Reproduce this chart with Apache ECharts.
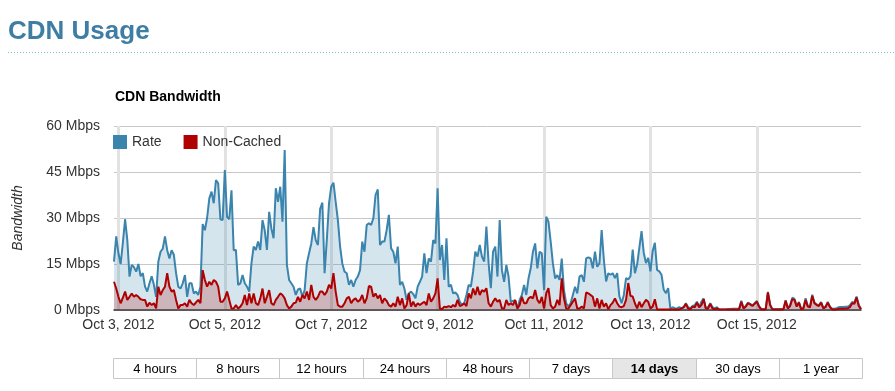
<!DOCTYPE html>
<html><head><meta charset="utf-8">
<script src="https://cdn.jsdelivr.net/npm/echarts@6/dist/echarts.min.js"></script>
<style>html,body{margin:0;padding:0;background:#fff}#c{width:895px;height:391px}</style>
</head><body><div id="c"></div>
<script>
// hourly samples starting Oct 2 2012, 22:00
const startTime = Date.UTC(2012, 9, 2, 22);
const stepMs = 3600000;

const rate = [
15.8,24,18.5,15,22,29.6,22.8,10.9,14.7,14,12.5,15,11,12,7.6,6,8.7,11,8.2,4.3,15.8,19,20,24,19.5,16.8,19.5,18,12,7.6,7,8.7,11.4,4.3,8.7,8.7,5.4,6,4.9,7.6,28,26,30,36.4,38.6,34.8,42.4,41.3,29.6,29.3,45.6,30.4,29.6,39,19.5,
19.6,8.2,8.7,11.4,8.7,7.6,6,15.2,20.7,19.6,22.3,19.6,29.3,26,19.6,32,26.6,23.4,39.7,35.3,40.2,28.8,52.2,14.7,9.8,8.7,7.6,4.9,6.7,7,4.3,6.5,15.2,18.5,21.7,27,22.8,21.2,33,35,12,22.8,34.8,40.2,41.5,35.3,29.3,20.7,15.2,12.5,12,8.2,9.8,7.6,9.8,
10.9,13,22.3,19,27.7,28.3,27.7,29.9,37.5,39.3,21.2,22.3,22.3,26,31,20.1,19,15.2,20.7,8.2,9.2,7,3.3,5.4,6,5.2,3.8,7.6,9.2,10.9,18.5,12,16.8,15.8,22.8,21.7,39.7,16.3,21.2,9.8,23.4,7.6,8.2,5.4,5.7,4.9,2.7,1.6,2.2,4.9,8.2,7.6,12.5,19,17.4,21.2,
17.4,15.8,27.2,15.2,7.1,19,20.7,10.9,29.3,13,9.2,14.7,10.9,2.7,3,3,0.5,3.3,4.9,8.2,4.9,10.3,13.6,19,21.7,13.6,19,18.5,6.5,30.4,28.8,22.3,15.2,10.3,11.4,9.8,16.8,6.5,2.2,1.1,2.2,4.9,7.6,5.4,10.9,11.4,9.2,16.8,17.2,16.8,13.6,19,14.1,15.2,26.1,16.3,
9.3,12,11.5,12,10.4,12,4.4,2.2,4.9,10.4,10,11,19.7,12,14.8,20.3,25.7,18.6,15.3,17,12.6,19.2,21.9,13.1,12.6,11.5,6.6,5.5,7.1,0.4,0.9,0.5,0.5,0.9,0.5,0.9,2.2,0.9,0.5,1.3,1.6,2.7,0.9,2.7,3.8,0.5,0.9,2.2,0.9,0.5,0.9,0.2,0.2,0.2,0.2,0.3,0.3,
0.4,0.4,0.4,0.4,3,0.6,1.3,2.4,2,1.5,2.2,3,1.3,0.3,0.3,0.3,5.9,1.8,0.3,0.3,0.3,0.3,0.3,0.3,3.2,0.7,1.5,4,3.6,1.4,2.6,0.4,0.7,3.8,1.3,1.1,5,2.4,1.8,1.5,2.6,0.7,1.1,2.6,1.1,0.4,0.4,0.6,0.9,1,1,1.1,1.1,1.5,2.6,2.4,4.4,1.6,0.4
];

const nonCached = [
9.2,7,4.3,2.2,4,6,3.3,4.3,5.4,4.3,4.9,4.3,3.5,3.3,3.3,1.1,2.4,1.6,2.2,0.5,7.6,4.9,6.5,7.6,12,7.6,6,6.5,3.3,0.5,1.6,1.6,2.2,1.1,3.3,2.2,1.6,2.5,3.3,2.2,13,9.8,7.6,9.2,8.2,9.8,9.2,7.6,2.7,2.7,3.8,6,3.3,0.5,0.5,
1.6,0.5,1.1,2.2,4.9,1.6,5.4,2.2,5.4,2.2,1.6,3.8,7,2.2,4.3,6.5,2.2,1.6,3.3,4.3,5.4,4.9,3.8,1.6,0.5,1.1,2.2,2.4,4.3,2.7,4.9,3.8,6,3.3,8.2,4.3,3.3,4.3,6,6,4.9,6,8.2,7,12,6,1.6,1.1,1.1,2.2,3.8,4.3,2.2,3.3,3.8,
2.7,3.3,4.9,2.2,3.8,7.8,7.6,4.3,5.4,3.8,4.9,2.2,3.8,3,1.6,1.1,2.2,1.1,4.3,1.6,3.8,0.5,1.6,5.4,1.1,2.7,1.1,2.2,1.6,2.2,2.7,1.6,5.4,2.7,3.8,5.4,10.3,0.5,0.3,1.1,0.9,1.3,0.9,1.6,1.1,3.3,1.3,1.6,2.2,1.3,5.4,3.8,7,4.9,7.6,4.9,
6.5,6,7.1,2.2,1.1,2.7,3.8,2.7,3.3,0.5,0.5,3.3,1.6,2.2,1.6,3.3,0.5,1.6,4.3,2.2,2.2,3.8,4.3,3.8,6.5,3.3,2.2,4.3,0.5,5.4,7.1,1.6,0.5,1.1,3.3,1.6,10.3,3.8,0.5,0.5,1.6,2.7,3.8,0.5,0.5,1.1,0.5,5.7,5.4,4.9,4.3,1.1,3.8,0.5,3.3,1.1,
2.2,0.2,1.6,2.4,3.8,2.2,1.1,0.9,1.3,3.3,8.8,4.6,4.4,2.2,0.5,2.7,0.9,2.2,3.3,2.7,0.5,1.1,3.5,0.2,0.2,0.2,0.2,0.2,0.2,0.2,0.2,0.2,0.2,0.2,0.5,0.9,2,0.5,0.2,1.1,0.9,2.4,0.9,1.6,3.5,0.5,0.5,2,0.5,0.2,0.5,0.2,0.2,0.2,0.2,0.2,0.2,
0.2,0.2,0.2,0.2,2.7,0.5,1.1,2.2,1.8,1.3,2,2.7,1.1,0.2,0.2,0.2,5.7,1.6,0.2,0.2,0.2,0.2,0.2,0.2,3,0.5,1.3,3.5,3.3,1.1,2.4,0.2,0.5,3.3,1.1,0.9,4.6,2.2,1.6,1.3,2.4,0.5,0.9,2.4,0.9,0.2,0.2,0.2,0.4,0.4,0.4,0.5,0.5,0.9,2.2,2,4.1,1.3,0.2
];

const yTickValues = [0, 15, 30, 45, 60];
const seriesNames = ['Rate', 'Non-Cached'];
const rangeButtons = ['4 hours','8 hours','12 hours','24 hours','48 hours','7 days','14 days','30 days','1 year'];
const activeButton = '14 days';
const monthNames = ['Jan','Feb','Mar','Apr','May','Jun','Jul','Aug','Sep','Oct','Nov','Dec'];

const times = rate.map((_, i) => startTime + i * stepMs);
function isMajor(ts) {
  const d = new Date(ts);
  return d.getUTCHours() === 0 && d.getUTCDate() % 2 === 1;
}
function fmt(ts) {
  const d = new Date(ts);
  return monthNames[d.getUTCMonth()] + ' ' + d.getUTCDate() + ', ' + d.getUTCFullYear();
}

const FONT = "'Liberation Sans', Arial, sans-serif";
const chart = echarts.init(document.getElementById('c'));

// buttons
const btnLeft = 113, btnRight = 862, btnTop = 358, btnH = 20;
const btnW = (btnRight - btnLeft) / rangeButtons.length;
const buttonEls = [];
rangeButtons.forEach((b, i) => {
  const x = Math.round(btnLeft + i * btnW) + 0.5;
  const x2 = Math.round(btnLeft + (i + 1) * btnW) + 0.5;
  buttonEls.push({
    type: 'rect', shape: { x: x, y: btnTop + 0.5, width: x2 - x, height: btnH },
    style: { fill: b === activeButton ? '#e6e6e6' : '#fff', stroke: '#c8c8c8', lineWidth: 1 }, silent: true
  });
  buttonEls.push({
    type: 'text', x: (x + x2) / 2, y: btnTop + btnH / 2 + 1,
    style: { text: b, fontSize: 13, fontFamily: FONT, fontWeight: b === activeButton ? 'bold' : 'normal',
      fill: '#000', align: 'center', verticalAlign: 'middle' }, silent: true
  });
});

chart.setOption({
  animation: false,
  textStyle: { fontFamily: FONT },
  grid: { left: 114, right: 34, top: 126, bottom: 81, containLabel: false, outerBoundsMode: 'none' },
  graphic: [
    { type: 'text', x: 8, y: 32, style: { text: 'CDN Usage', fontSize: 26, fontWeight: 'bold', fontFamily: FONT,
      fill: '#3f7ea4', verticalAlign: 'middle' } },
    { type: 'line', shape: { x1: 8, y1: 52.5, x2: 895, y2: 52.5 },
      style: { stroke: '#7fc0d8', lineWidth: 1, lineDash: [1, 2] } },
    { type: 'text', x: 115, y: 97, style: { text: 'CDN Bandwidth', fontSize: 14, fontWeight: 'bold', fontFamily: FONT,
      fill: '#000', verticalAlign: 'middle' } }
  ].concat(buttonEls),
  legend: {
    data: seriesNames, left: 108, top: 130, icon: 'rect', itemWidth: 14, itemHeight: 14, itemGap: 22,
    textStyle: { fontSize: 14, color: '#333', fontFamily: FONT }
  },
  xAxis: {
    type: 'category', boundaryGap: false, data: times,
    axisLine: { lineStyle: { color: '#333', width: 1.5 } },
    axisTick: { show: false },
    axisLabel: { interval: (i, v) => isMajor(+v), formatter: v => fmt(+v), fontSize: 14, color: '#333', margin: 8, fontFamily: FONT },
    splitLine: { show: true, interval: (i, v) => isMajor(+v), lineStyle: { color: '#e2e2e2', width: 3 } }
  },
  yAxis: {
    type: 'value', min: yTickValues[0], max: yTickValues[yTickValues.length - 1], interval: yTickValues[1] - yTickValues[0],
    name: 'Bandwidth', nameLocation: 'middle', nameGap: 89, nameRotate: 90,
    nameTextStyle: { fontStyle: 'italic', fontSize: 14, color: '#333', fontFamily: FONT },
    axisLine: { show: false }, axisTick: { show: false },
    axisLabel: { formatter: '{value} Mbps', fontSize: 14, color: '#333', margin: 14, fontFamily: FONT },
    splitLine: { lineStyle: { color: '#c8c8c8', width: 1 } }
  },
  series: [
    { name: seriesNames[0], type: 'line', data: rate, showSymbol: false, symbol: 'none',
      color: '#3a84ad', lineStyle: { color: '#3a84ad', width: 2 },
      areaStyle: { color: 'rgba(58,132,173,0.3)' }, z: 2 },
    { name: seriesNames[1], type: 'line', data: nonCached, showSymbol: false, symbol: 'none',
      color: '#b00000', lineStyle: { color: '#b00000', width: 2 },
      areaStyle: { color: 'rgba(176,0,0,0.3)' }, z: 3 }
  ]
});
</script></body></html>
